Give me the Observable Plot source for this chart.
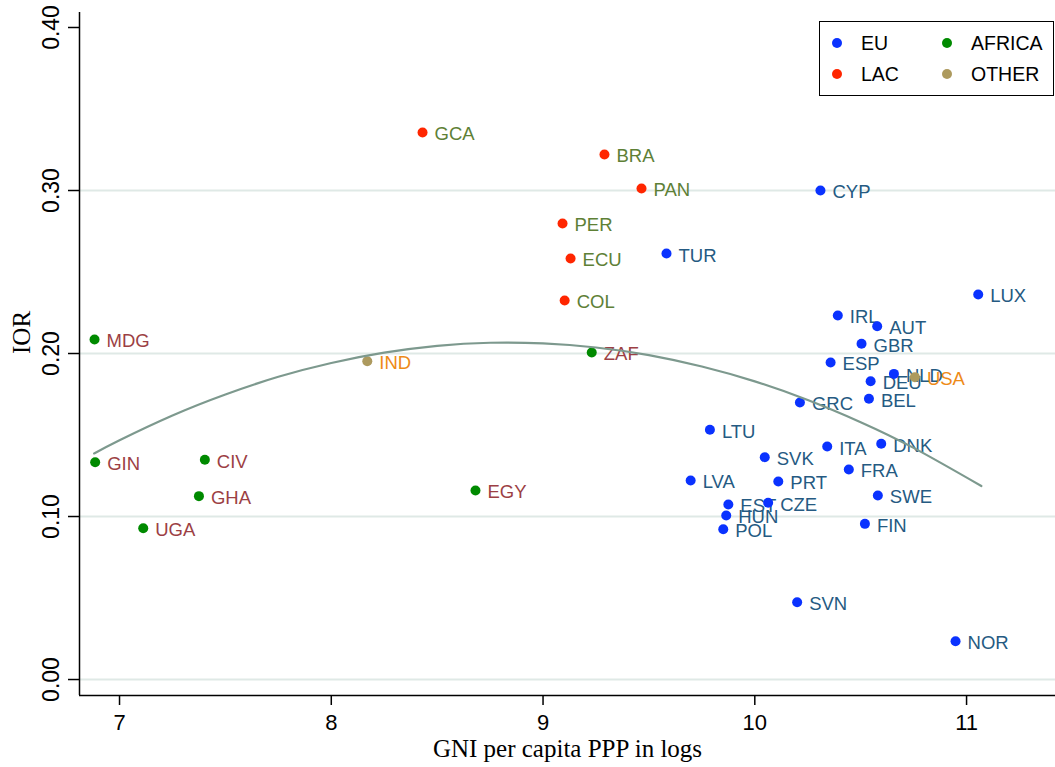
<!DOCTYPE html>
<html><head><meta charset="utf-8">
<script src="https://cdn.jsdelivr.net/npm/d3@7"></script>
<script src="https://cdn.jsdelivr.net/npm/@observablehq/plot@0.6"></script>
<style>
body{margin:0;background:#fff}
#wrap{position:relative;width:1055px;height:767px}
#legend{position:absolute;left:819px;top:21px;width:235px;height:75px;box-sizing:border-box;border:1.5px solid #000;background:#fff;font-family:"Liberation Sans",Arial,sans-serif;font-size:19.5px}
.item{position:absolute;display:flex;align-items:center;height:20px}
.sw{width:10px;height:10px;border-radius:50%;margin-right:19px}
</style>
</head><body><div id="wrap"><div id="legend"></div></div>
<script>
const countries = ["CYP","TUR","LUX","IRL","AUT","GBR","ESP","NLD","DEU","BEL","GRC","LTU","ITA","DNK","SVK","FRA","LVA","PRT","SWE","EST","CZE","HUN","POL","FIN","SVN","NOR",
  "GCA","BRA","PAN","PER","ECU","COL",
  "MDG","ZAF","GIN","CIV","GHA","UGA","EGY",
  "IND","USA"];
const gni = [10.310,9.583,11.055,10.392,10.578,10.504,10.358,10.657,10.547,10.539,10.213,9.788,10.342,10.597,10.047,10.444,9.697,10.111,10.581,9.875,10.063,9.865,9.851,10.520,10.200,10.948,
  8.431,9.290,9.465,9.092,9.130,9.102,
  6.882,9.230,6.885,7.403,7.375,7.112,8.681,
  8.170,10.756];
const ior = [0.3000,0.2613,0.2362,0.2233,0.2167,0.2060,0.1945,0.1875,0.1830,0.1722,0.1699,0.1532,0.1429,0.1446,0.1364,0.1288,0.1221,0.1215,0.1129,0.1074,0.1084,0.1006,0.0922,0.0955,0.0474,0.0235,
  0.3356,0.3221,0.3012,0.2798,0.2583,0.2325,
  0.2086,0.2006,0.1333,0.1348,0.1125,0.0928,0.1160,
  0.1953,0.1855];
const region = ["EU","EU","EU","EU","EU","EU","EU","EU","EU","EU","EU","EU","EU","EU","EU","EU","EU","EU","EU","EU","EU","EU","EU","EU","EU","EU",
  "LAC","LAC","LAC","LAC","LAC","LAC",
  "AFRICA","AFRICA","AFRICA","AFRICA","AFRICA","AFRICA","AFRICA",
  "OTHER","OTHER"];
const groups = ["EU","LAC","AFRICA","OTHER"];
// quadratic fit curve
const fitX = [6.88,7.0,7.25,7.5,7.75,8.0,8.25,8.5,8.75,9.0,9.25,9.5,9.75,10.0,10.25,10.5,10.75,11.07];
const fitY = [0.1387,0.1468,0.1620,0.1749,0.1857,0.1942,0.2005,0.2047,0.2066,0.2062,0.2037,0.1990,0.1920,0.1829,0.1715,0.1579,0.1421,0.1187];
const xTicks = [7,8,9,10,11];
const yTicks = [0,0.1,0.2,0.3,0.4];
const gridTicks = [0,0.1,0.2,0.3];

const dotColors = {EU:"#0a32ff", LAC:"#ff2600", AFRICA:"#008a00", OTHER:"#ad9a5e"};
const labelColors = {EU:"#255a82", LAC:"#5e8036", AFRICA:"#9c3f44", OTHER:"#ee8a17"};

const data = countries.map((c,i)=>({c, x:gni[i], y:ior[i], g:region[i]}));
const fit = fitX.map((x,i)=>({x, y:fitY[i]}));
const X0 = 6.811, X1 = 11.42, Y0 = -0.0098, Y1 = 0.4092;
const sans = "Liberation Sans, Arial, sans-serif";
const serif = "Liberation Serif, Times New Roman, serif";

const groupMarks = groups.flatMap(g => {
  const sub = data.filter(d => d.g === g);
  return [
    Plot.text(sub, {x:"x", y:"y", text:"c", dx:12, dy:2, textAnchor:"start", lineAnchor:"middle", fontSize:18.5, fill:labelColors[g], fontFamily:sans}),
    Plot.dot(sub, {x:"x", y:"y", r:5, fill:dotColors[g], stroke:"none"})
  ];
});

const chart = Plot.plot({
  width:1055, height:767,
  marginLeft:79, marginRight:0, marginTop:12, marginBottom:72,
  x:{domain:[X0,X1]}, y:{domain:[Y0,Y1]},
  style:{fontFamily:sans, background:"#fff", overflow:"visible"},
  marks:[
    Plot.gridY(gridTicks, {stroke:"#dfe9e6", strokeOpacity:1, strokeWidth:2}),
    Plot.axisX(xTicks, {tickSize:10, tickPadding:9, fontSize:22, tickFormat:d=>String(d), label:null, stroke:"#000", strokeWidth:1.5, fill:"#000"}),
    Plot.axisY(yTicks, {tickSize:11, tickFormat:()=>"", label:null, stroke:"#000", strokeWidth:1.5}),
    Plot.text(yTicks, {x:()=>X0, y:d=>d, text:d=>d.toFixed(2), rotate:-90, dx:-21, textAnchor:"middle", lineAnchor:"bottom", fontSize:23, fill:"#000", fontFamily:sans}),
    Plot.ruleX([X0], {stroke:"#000", strokeWidth:1.5}),
    Plot.ruleY([Y0], {stroke:"#000", strokeWidth:1.5}),
    ...groupMarks,
    Plot.line(fit, {x:"x", y:"y", curve:"natural", stroke:"#7d998e", strokeWidth:2.2}),
    Plot.text(["GNI per capita PPP in logs"], {frameAnchor:"bottom", dy:61, lineAnchor:"bottom", fontSize:25, fontFamily:serif, fill:"#000"}),
    Plot.text(["IOR"], {frameAnchor:"left", dx:-50, rotate:-90, lineAnchor:"bottom", fontSize:25, fontFamily:serif, fill:"#000"})
  ]
});
document.getElementById("wrap").prepend(chart);

const legend = d3.select("#legend");
groups.forEach((g,i) => {
  const col = Math.floor(i/2), row = i%2;
  const item = legend.append("div").attr("class","item")
    .style("left", (12 + col*110) + "px").style("top", (11 + row*31) + "px");
  item.append("div").attr("class","sw").style("background", dotColors[g]);
  item.append("span").text(g);
});
</script>
</body></html>
